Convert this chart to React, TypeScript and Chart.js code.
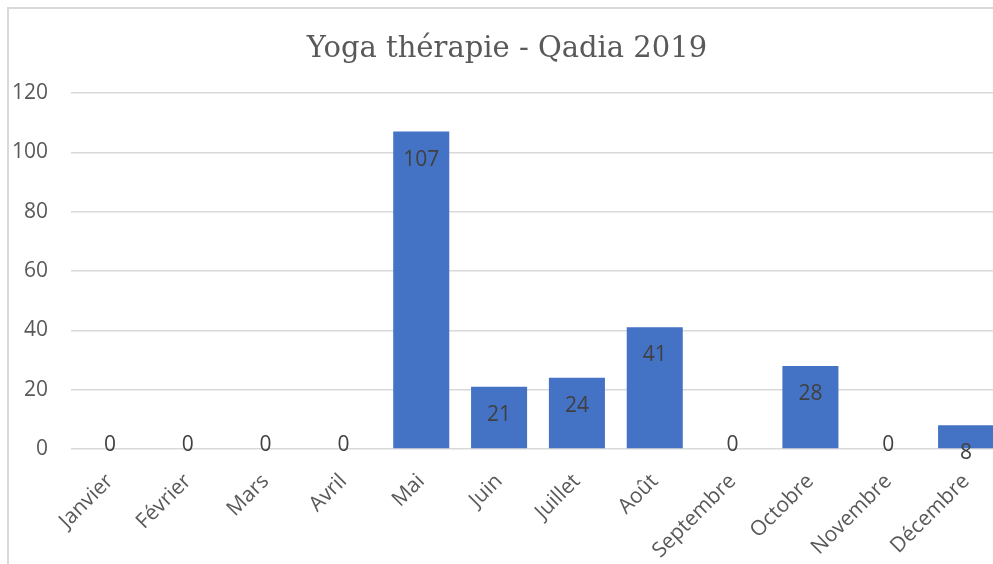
import React, { useEffect, useRef } from "react";
import { Chart, registerables } from "chart.js";

Chart.register(...registerables);

const TITLE = "Yoga thérapie - Qadia 2019";
const MONTHS = [
  "Janvier",
  "Février",
  "Mars",
  "Avril",
  "Mai",
  "Juin",
  "Juillet",
  "Août",
  "Septembre",
  "Octobre",
  "Novembre",
  "Décembre",
];
const SESSIONS = [0, 0, 0, 0, 107, 21, 24, 41, 0, 28, 0, 8];
const Y_MIN = 0;
const Y_MAX = 120;
const Y_STEP = 20;

const LABEL_FONT = "'Open Sans', sans-serif";

const dataLabelPlugin = {
  id: "dataLabels",
  afterDatasetsDraw(chart: any) {
    const ctx = chart.ctx;
    const meta = chart.getDatasetMeta(0);
    const data = chart.data.datasets[0].data as number[];
    ctx.save();
    ctx.font = `21px ${LABEL_FONT}`;
    ctx.fillStyle = "#404040";
    ctx.textAlign = "center";
    ctx.textBaseline = "middle";
    meta.data.forEach((bar: any, i: number) => {
      const v = data[i];
      const y = v > 0 ? bar.y + 28 : bar.base - 4;
      ctx.fillText(String(v), bar.x, y);
    });
    ctx.restore();
  },
};

export default function App() {
  const canvasRef = useRef<HTMLCanvasElement | null>(null);

  useEffect(() => {
    const canvas = canvasRef.current;
    if (!canvas) return;
    const chart = new Chart(canvas, {
      type: "bar",
      data: {
        labels: MONTHS,
        datasets: [
          {
            data: SESSIONS,
            backgroundColor: "#4472C4",
            barPercentage: 0.72,
            categoryPercentage: 1,
          },
        ],
      },
      options: {
        responsive: false,
        animation: false,
        devicePixelRatio: 1,
        layout: { padding: 0 },
        plugins: {
          legend: { display: false },
          tooltip: { enabled: false },
          title: {
            display: true,
            text: TITLE,
            color: "#595959",
            font: {
              family: "'DejaVu Serif', serif",
              size: 29,
              weight: "normal",
              lineHeight: 1.2,
            },
            padding: { top: 23, bottom: 26.2 },
          },
        },
        scales: {
          y: {
            min: Y_MIN,
            max: Y_MAX,
            ticks: {
              stepSize: Y_STEP,
              color: "#595959",
              font: { family: LABEL_FONT, size: 21 },
              padding: 23,
            },
            grid: { color: "#d9d9d9", lineWidth: 1.5, drawTicks: false },
            border: { display: false },
            afterFit: (s: any) => {
              s.width = 62;
            },
          },
          x: {
            grid: { display: false, drawTicks: false },
            border: { display: false },
            ticks: {
              color: "#595959",
              font: { family: LABEL_FONT, size: 21 },
              minRotation: 45,
              maxRotation: 45,
              padding: 20,
              autoSkip: false,
            },
            afterFit: (s: any) => {
              s.height = 120;
            },
          },
        },
      },
      plugins: [dataLabelPlugin],
    });
    return () => chart.destroy();
  }, []);

  return (
    <div
      style={{
        position: "fixed",
        left: 0,
        top: 0,
        width: 993,
        height: 564,
        overflow: "hidden",
        background: "#fff",
      }}
    >
      <div
        style={{
          position: "absolute",
          left: 7,
          top: 7,
          width: 1100,
          height: 620,
          border: "2px solid #d9d9d9",
          background: "#fff",
        }}
      >
        <canvas
          ref={canvasRef}
          width={996}
          height={560}
          style={{ position: "absolute", left: 0, top: 0, width: 996, height: 560 }}
        />
      </div>
    </div>
  );
}
